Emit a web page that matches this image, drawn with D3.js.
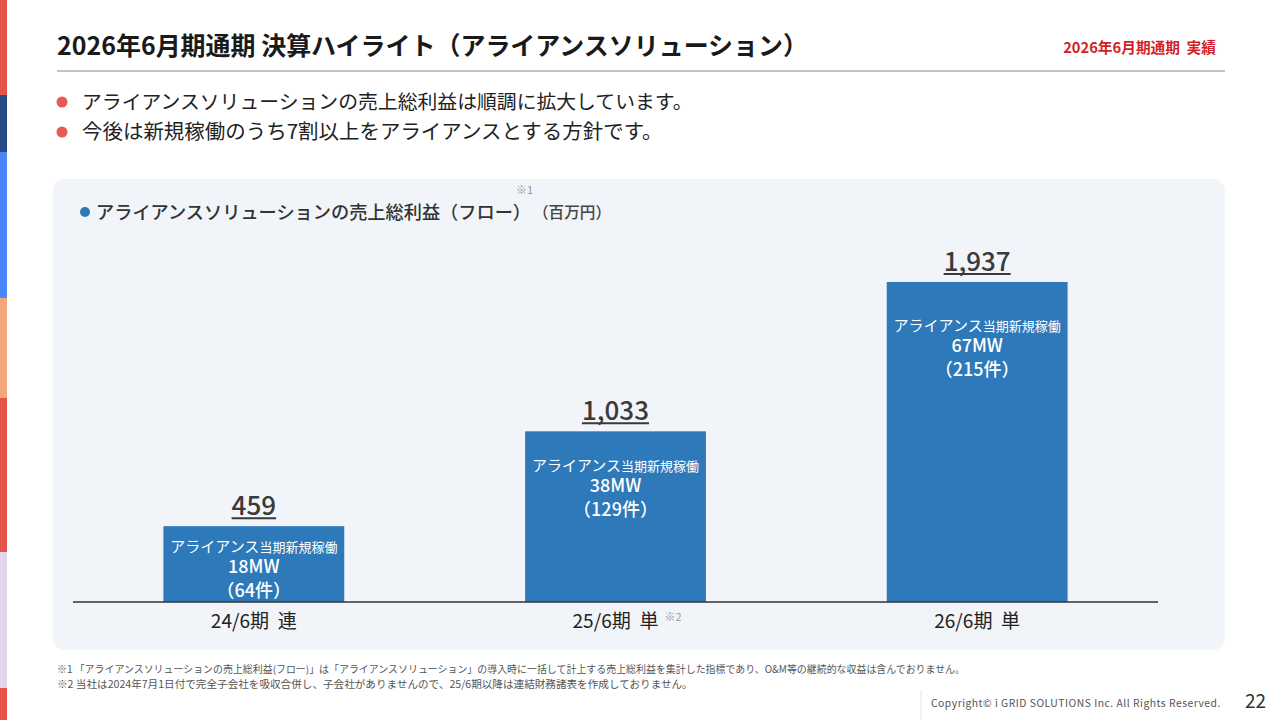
<!DOCTYPE html>
<html><head><meta charset="utf-8">
<script src="https://cdn.jsdelivr.net/npm/d3@7"></script>
<style>
html,body{margin:0;padding:0;background:#fff;}
svg{display:block;font-family:"Noto Sans CJK JP","Noto Sans",sans-serif;}
text{white-space:pre;}
</style></head>
<body>
<svg id="c" width="1280" height="720"></svg>
<script>
// ---- data ----
const categories = ["24/6期  連", "25/6期  単", "26/6期  単"];
const categoryNotes = ["", "※2", ""];
const grossProfit = [459, 1033, 1937];
const capacityMW = [18, 38, 67];
const projectCount = [64, 129, 215];
const barLabelPrefix = "アライアンス";
const barLabelSuffix = "当期新規稼働";
const pageTitle = "2026年6月期通期 決算ハイライト（アライアンスソリューション）";
const pageTag = "2026年6月期通期  実績";
const bullets = ["アライアンスソリューションの売上総利益は順調に拡大しています。",
                 "今後は新規稼働のうち7割以上をアライアンスとする方針です。"];
const chartTitle = "アライアンスソリューションの売上総利益（フロー）";
const chartUnit = "（百万円）";
const footnotes = ["※1 「アライアンスソリューションの売上総利益(フロー)」は「アライアンスソリューション」の導入時に一括して計上する売上総利益を集計した指標であり、O&M等の継続的な収益は含んでおりません。",
                   "※2 当社は2024年7月1日付で完全子会社を吸収合併し、子会社がありませんので、25/6期以降は連結財務諸表を作成しておりません。"];
const copyright = "Copyright© i GRID SOLUTIONS Inc. All Rights Reserved.";
const pageNo = "22";
const stripColors = ["#e2534b","#264b87","#4a86f7","#f4a77a","#e2534b","#e3d6ea","#e8504a"];
const stripStops = [0,95,152,298,398,552,688,720];

const svg = d3.select("#c");

// fit text to width by adjusting font-size
function fit(sel, w){
  const node = sel.node();
  const fs = parseFloat(sel.attr("font-size"));
  const cur = node.getComputedTextLength();
  if(cur>0) sel.attr("font-size", (fs*w/cur).toFixed(2));
  return sel;
}

// left strip
svg.selectAll("rect.strip").data(stripColors).join("rect")
  .attr("x",0).attr("width",7)
  .attr("y",(d,i)=>stripStops[i]).attr("height",(d,i)=>stripStops[i+1]-stripStops[i])
  .attr("fill",d=>d);

// header
fit(svg.append("text").attr("x",57).attr("y",55).attr("font-size",25).attr("font-weight",700)
  .attr("fill","#1a1a1a").text(pageTitle), 751);
fit(svg.append("text").attr("x",1216).attr("y",53).attr("text-anchor","end").attr("font-size",13)
  .attr("font-weight",700).attr("fill","#d21f26").text(pageTag), 153);
svg.append("line").attr("x1",57).attr("x2",1225).attr("y1",71).attr("y2",71)
  .attr("stroke","#c4c4c4").attr("stroke-width",2);

// bullets
const bw = [611,581];
bullets.forEach((b,i)=>{
  const cy = 102+30*i;
  svg.append("circle").attr("cx",62).attr("cy",cy).attr("r",5.5).attr("fill","#e8594f");
  fit(svg.append("text").attr("x",82).attr("y",cy+7).attr("font-size",20).attr("fill","#222").text(b), bw[i]);
});

// panel
svg.append("rect").attr("x",53).attr("y",179).attr("width",1172).attr("height",471)
  .attr("rx",12).attr("fill","#f1f4f8");

// chart title
svg.append("circle").attr("cx",85).attr("cy",212).attr("r",5).attr("fill","#2e78b8");
fit(svg.append("text").attr("x",96).attr("y",219).attr("font-size",18).attr("font-weight",500)
  .attr("fill","#333").text(chartTitle), 435);
fit(svg.append("text").attr("x",533).attr("y",218).attr("font-size",13).attr("font-weight",500)
  .attr("fill","#444").text(chartUnit), 78);
svg.append("text").attr("x",516).attr("y",194).attr("font-size",11).attr("fill","#999").text("※1");

// scales
const x = d3.scaleBand().domain(categories).range([73,1158]).paddingInner(0.5).paddingOuter(0.25);
const y = d3.scaleLinear().domain([0,1937]).range([602,282]);

const g = svg.append("g");
g.selectAll("rect.bar").data(grossProfit).join("rect")
  .attr("x",(d,i)=>x(categories[i])).attr("width",x.bandwidth())
  .attr("y",d=>y(d)).attr("height",d=>y(0)-y(d)).attr("fill","#2e79b9");

// axis
const axis = d3.axisBottom(x).tickSize(0).tickPadding(0).tickFormat(()=>"");
const ag = svg.append("g").attr("transform",`translate(0,${y(0)})`).call(axis);
ag.select(".domain").attr("stroke","#333").attr("stroke-width",1.5).attr("d","M73,0H1158");
categories.forEach((c,i)=>{
  const cx = x(c)+x.bandwidth()/2;
  const t = svg.append("text").attr("x",cx).attr("y",628).attr("text-anchor","middle")
    .attr("font-size",16).attr("fill","#222").text(c);
  fit(t, 86);
  if(categoryNotes[i]){
    svg.append("text").attr("x",cx+49).attr("y",621).attr("font-size",11).attr("fill","#999").text(categoryNotes[i]);
  }
});

// value labels
const fmt = d3.format(",");
grossProfit.forEach((v,i)=>{
  const cx = x(categories[i])+x.bandwidth()/2;
  const top = y(v);
  const t = svg.append("text").attr("x",cx).attr("y",top-11).attr("text-anchor","middle")
    .attr("font-size",26).attr("font-weight",500).attr("fill","#3a3a3a").text(fmt(v));
  const bb = t.node().getBBox();
  svg.append("line").attr("x1",bb.x).attr("x2",bb.x+bb.width).attr("y1",top-8).attr("y2",top-8)
    .attr("stroke","#3a3a3a").attr("stroke-width",2);
  // inside labels
  const h = y(0)-top;
  const off = Math.min(43, 20+(h-75)*0.14);
  const l1 = svg.append("text").attr("x",cx).attr("y",top+off+6).attr("text-anchor","middle")
    .attr("fill","#fff").attr("font-weight",400);
  l1.append("tspan").attr("font-size",15).text(barLabelPrefix);
  l1.append("tspan").attr("font-size",13).text(barLabelSuffix);
  svg.append("text").attr("x",cx).attr("y",top+off+27).attr("text-anchor","middle")
    .attr("fill","#fff").attr("font-size",18).attr("font-weight",500).text(capacityMW[i]+"MW");
  svg.append("text").attr("x",cx).attr("y",top+off+51).attr("text-anchor","middle")
    .attr("fill","#fff").attr("font-size",18).attr("font-weight",500).text("（"+projectCount[i]+"件）");
});

// footnotes
const fw = [909,636];
footnotes.forEach((f,i)=>{
  fit(svg.append("text").attr("x",57).attr("y",673+15*i).attr("font-size",10).attr("fill","#555").text(f), fw[i]);
});

// footer
svg.append("line").attr("x1",921).attr("x2",921).attr("y1",690).attr("y2",720).attr("stroke","#e6e6e6");
fit(svg.append("text").attr("x",931).attr("y",707).attr("font-size",10).attr("fill","#555")
  .attr("letter-spacing",0.5).text(copyright), 291);
svg.append("text").attr("x",1266).attr("y",708).attr("text-anchor","end").attr("font-size",19)
  .attr("fill","#333").text(pageNo);
</script>
</body></html>
